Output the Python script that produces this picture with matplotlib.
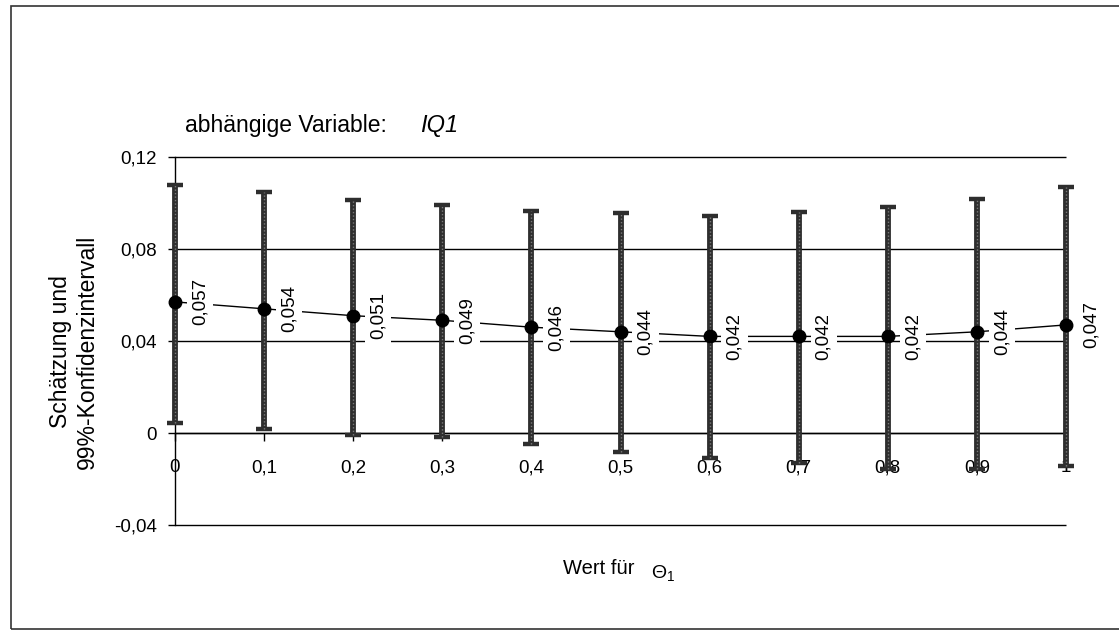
import matplotlib
matplotlib.use("Agg")
import matplotlib.pyplot as plt
from matplotlib.patches import Rectangle
from matplotlib.ticker import FuncFormatter

plt.rcParams["font.family"] = ["Liberation Sans", "DejaVu Sans"]
plt.rcParams["mathtext.fontset"] = "custom"
plt.rcParams["mathtext.rm"] = "Liberation Sans"
plt.rcParams["mathtext.it"] = "Liberation Sans:italic"

# =========================
# Daten
# =========================
theta = [0.0, 0.1, 0.2, 0.3, 0.4, 0.5, 0.6, 0.7, 0.8, 0.9, 1.0]
schaetzung = [0.057, 0.054, 0.051, 0.049, 0.046, 0.044, 0.042, 0.042, 0.042, 0.044, 0.047]
ki_oben = [0.108, 0.105, 0.1013, 0.099, 0.0965, 0.0955, 0.0945, 0.0962, 0.0984, 0.1017, 0.1071]
ki_unten = [0.0045, 0.0016, -0.0009, -0.0018, -0.0048, -0.0081, -0.0110, -0.0130, -0.0157, -0.0157, -0.0142]
y_ticks = [-0.04, 0.0, 0.04, 0.08, 0.12]
x_ticks = [0.0, 0.1, 0.2, 0.3, 0.4, 0.5, 0.6, 0.7, 0.8, 0.9, 1.0]

W, H = 1119, 630
fig = plt.figure(figsize=(W / 100, H / 100), dpi=100)

# Rahmen um das Diagramm
fig.add_artist(Rectangle((11 / W, 1 / H), 1.2, (629 - 6) / H, transform=fig.transFigure,
                         fill=False, edgecolor="#333333", linewidth=1.2))

ax = fig.add_axes([175 / W, (H - 525) / H, (1066 - 175) / W, (525 - 157) / H])
ax.set_xlim(0, 1)
ax.set_ylim(-0.04, 0.12)

ax.set_axisbelow(True)
ax.set_yticks(y_ticks)
ax.set_xticks(x_ticks)
ax.yaxis.set_major_formatter(FuncFormatter(lambda v, p: ("%.2f" % v).replace(".", ",") if abs(v) > 1e-9 else "0"))
ax.xaxis.set_major_formatter(FuncFormatter(lambda v, p: ("%g" % v).replace(".", ",")))

# Gitterlinien (auch am Rand voll sichtbar)
ax.hlines(y_ticks, 0, 1, colors="black", linewidth=1.0, zorder=0.5, clip_on=False)

for s in ["top", "right"]:
    ax.spines[s].set_visible(False)
ax.spines["bottom"].set_position(("data", 0))
ax.spines["bottom"].set_linewidth(1.0)
ax.spines["left"].set_linewidth(1.0)
ax.tick_params(axis="x", direction="out", length=6, width=1, pad=13, labelsize=13.5)
ax.tick_params(axis="y", direction="out", length=5, width=1, pad=8, labelsize=13.5)

# Verbindungslinie
ax.plot(theta, schaetzung, color="black", linewidth=1.0, zorder=1.5)

# Konfidenzintervalle
err_low = [s - u for s, u in zip(schaetzung, ki_unten)]
err_high = [o - s for s, o in zip(schaetzung, ki_oben)]
ax.errorbar(theta, schaetzung, yerr=[err_low, err_high], fmt="none", ecolor="#2e2e2e",
            elinewidth=4.2, capsize=6, capthick=3.2, zorder=3, clip_on=False)
ax.vlines(theta, ki_unten, ki_oben, colors="#7a7a7a", linewidth=1.0, linestyles=(0, (1, 1.5)),
          zorder=3.1, clip_on=False)

# Punktschätzer
ax.plot(theta, schaetzung, "o", color="black", markersize=9, zorder=4, clip_on=False)

# Datenbeschriftungen
for x, y in zip(theta, schaetzung):
    ax.annotate(("%.3f" % y).replace(".", ","), (x, y), xytext=(18, 0), textcoords="offset points",
                rotation=90, ha="center", va="center", fontsize=13.5, zorder=2,
                bbox=dict(boxstyle="square,pad=0.25", facecolor="white", edgecolor="none"))

# Texte
fig.text(185 / W, 1 - 132 / H, "abhängige Variable:", fontsize=16.5, ha="left", va="baseline")
fig.text(420 / W, 1 - 132 / H, "IQ1", fontsize=17, style="italic", ha="left", va="baseline")
fig.text(74 / W, 1 - 352 / H, "Schätzung und\n99%-Konfidenzintervall", fontsize=16.5, rotation=90,
         ha="center", va="center", multialignment="center")
fig.text(563 / W, 1 - 574 / H, "Wert für", fontsize=14.5, ha="left", va="baseline")
fig.text(651 / W, 1 - 578 / H, r"$\Theta_1$", fontsize=14, ha="left", va="baseline")

plt.savefig("out.png", dpi=100)
